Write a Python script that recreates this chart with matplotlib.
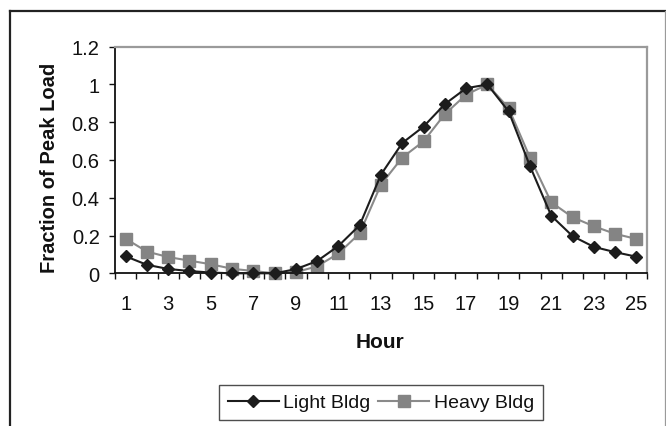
import numpy as np
import matplotlib
matplotlib.use("Agg")
import matplotlib.pyplot as plt
from matplotlib.lines import Line2D

plt.rcParams['font.family'] = ['Liberation Sans', 'DejaVu Sans']

hours = list(range(1, 26))
light_bldg = [0.09, 0.045, 0.023, 0.012, 0.004, 0.0, 0.0, 0.0, 0.022, 0.065,
              0.145, 0.255, 0.523, 0.69, 0.777, 0.896, 0.98, 1.0, 0.857, 0.568,
              0.305, 0.197, 0.14, 0.112, 0.088]
heavy_bldg = [0.183, 0.115, 0.086, 0.067, 0.048, 0.024, 0.012, 0.0, 0.006, 0.037,
              0.105, 0.212, 0.47, 0.613, 0.699, 0.843, 0.946, 1.0, 0.874, 0.613,
              0.376, 0.297, 0.249, 0.209, 0.182]
y_ticks = [0, 0.2, 0.4, 0.6, 0.8, 1, 1.2]
y_tick_labels = ["0", "0.2", "0.4", "0.6", "0.8", "1", "1.2"]
x_label_hours = list(range(1, 26, 2))

W, H = 666, 427
fig = plt.figure(figsize=(W / 100, H / 100), dpi=100)
fig.patch.set_facecolor("white")

# chart area frame
fig.add_artist(Line2D([10.5 / W, 10.5 / W], [0, 1 - 12 / H], transform=fig.transFigure,
                      color="#222222", lw=1.6))
fig.add_artist(Line2D([10 / W, 1], [1 - 12 / H, 1 - 12 / H], transform=fig.transFigure,
                      color="#222222", lw=1.6))
fig.add_artist(Line2D([665 / W, 665 / W], [0, 1 - 12 / H], transform=fig.transFigure,
                      color="#9a9a9a", lw=0.9))

left, right, top, bottom = 115, 647, 47.7, 274.3
ax = fig.add_axes([left / W, 1 - bottom / H, (right - left) / W, (bottom - top) / H])

ax.plot(hours, light_bldg, color="#1c1c1c", lw=1.5, marker="D", ms=6.5,
        mfc="#1c1c1c", mec="#1c1c1c", clip_on=False, zorder=3, label="Light Bldg")
ax.plot(hours, heavy_bldg, color="#8a8a8a", lw=1.5, marker="s", ms=8.5,
        mfc="#848484", mec="#848484", clip_on=False, zorder=2, label="Heavy Bldg")

ax.set_xlim(0.5, 25.5)
ax.set_ylim(0, 1.2)

# category boundaries carry the tick marks, odd hours carry the labels
ax.set_xticks(np.arange(0.5, 26, 1))
ax.set_xticklabels([])
ax.set_xticks(x_label_hours, minor=True)
ax.set_xticklabels([str(h) for h in x_label_hours], minor=True)
ax.tick_params(axis="x", which="major", direction="out", length=4, width=1, color="#111111")
ax.tick_params(axis="x", which="minor", length=0, pad=15, labelsize=14.5, labelcolor="#111111")

ax.set_yticks(y_ticks)
ax.set_yticklabels(y_tick_labels)
ax.tick_params(axis="y", direction="out", length=4, width=1, color="#111111",
               pad=7, labelsize=14.5, labelcolor="#111111")

for side in ("left", "bottom"):
    ax.spines[side].set_color("#111111")
    ax.spines[side].set_linewidth(1.3)
for side in ("top", "right"):
    ax.spines[side].set_color("#9a9a9a")
    ax.spines[side].set_linewidth(1.6)

fig.text(50 / W, 1 - 168 / H, "Fraction of Peak Load", rotation=90, ha="center", va="center",
         fontsize=14.5, fontweight="bold", color="#111111")
fig.text(380 / W, 1 - 343 / H, "Hour", ha="center", va="center",
         fontsize=15, fontweight="bold", color="#111111")

leg = fig.legend(loc="center", bbox_to_anchor=(381 / W, 1 - 403.5 / H), ncol=2,
                 fontsize=14, frameon=True, fancybox=False, handlelength=2.6,
                 handletextpad=0.25, columnspacing=0.4, borderpad=0.45,
                 borderaxespad=0)
leg.get_frame().set_edgecolor("#222222")
leg.get_frame().set_linewidth(1.0)
for t in leg.get_texts():
    t.set_color("#111111")

fig.savefig("out.png", dpi=100)
